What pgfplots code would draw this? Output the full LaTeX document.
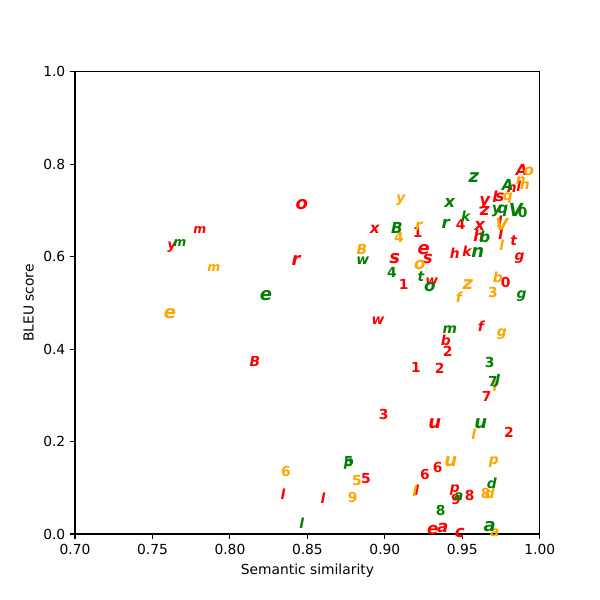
\documentclass[border=0pt]{standalone}
\usepackage{fontspec}
\setmainfont{DejaVu Sans}
\usepackage{pgfplots}
\usepackage{pgfplotstable}
\pgfplotsset{compat=1.18}
\definecolor{mplorange}{HTML}{FFA500}
\definecolor{mplgreen}{HTML}{008000}
\definecolor{mplred}{HTML}{FF0000}

\pgfplotstableread{
x y s label
0.7626 0.621 10 y
0.7806 0.658 9 m
0.8464 0.712 13 o
0.8426 0.593 13 r
0.8161 0.374 10 B
0.8935 0.660 11 x
0.9064 0.595 13 s
0.9212 0.652 10 \upshape1
0.9251 0.615 13 e
0.9277 0.595 12 s
0.9122 0.541 10 \upshape1
0.9303 0.545 10 w
0.8955 0.461 10 w
0.9451 0.608 10 h
0.9490 0.669 10 \upshape4
0.9530 0.613 10 k
0.9612 0.667 12 x
0.9606 0.645 11 h
0.9645 0.716 12 y
0.9645 0.699 12 z
0.9710 0.729 11 l
0.9742 0.729 11 s
0.9742 0.675 11 l
0.9748 0.649 11 l
0.9832 0.634 10 t
0.9870 0.597 10 g
0.9780 0.545 10 \upshape0
0.9883 0.788 11 A
0.9819 0.747 10 n
0.9864 0.753 10 l
0.9619 0.450 10 f
0.9393 0.420 10 b
0.9406 0.396 10 \upshape2
0.9200 0.361 10 \upshape1
0.9354 0.359 10 \upshape2
0.9657 0.297 10 \upshape7
0.8993 0.258 10 \upshape3
0.9322 0.238 13 u
0.9800 0.221 10 \upshape2
0.9341 0.143 10 \upshape6
0.9258 0.128 10 \upshape6
0.8877 0.119 10 \upshape5
0.8342 0.087 10 l
0.8600 0.078 10 l
0.9206 0.095 10 l
0.9451 0.095 10 p
0.9458 0.074 10 \upshape9
0.9548 0.084 10 \upshape8
0.9309 0.009 12 e
0.9374 0.013 12 a
0.9483 0.002 12 c
}\tred

\pgfplotstableread{
x y s label
0.7613 0.476 13 e
0.7897 0.576 9 m
0.8851 0.615 10 B
0.9103 0.723 10 y
0.9090 0.641 10 \upshape4
0.9219 0.667 11 r
0.9225 0.582 12 o
0.9477 0.513 10 f
0.9535 0.539 13 z
0.9729 0.556 10 b
0.9697 0.522 10 \upshape3
0.9755 0.433 10 g
0.9710 0.320 10 l
0.9574 0.216 10 l
0.9426 0.156 13 u
0.9703 0.156 10 p
0.8361 0.136 10 \upshape6
0.8819 0.115 10 \upshape5
0.8793 0.080 10 \upshape9
0.9193 0.093 10 l
0.9651 0.087 10 \upshape8
0.9677 0.087 10 d
0.9710 0.002 10 a
0.9755 0.669 12 V
0.9755 0.626 10 l
0.9793 0.727 10 q
0.9877 0.764 10 n
0.9903 0.755 10 n
0.9929 0.784 11 o
}\torange

\pgfplotstableread{
x y s label
0.7677 0.630 9 m
0.8232 0.515 13 e
0.8858 0.591 10 w
0.9077 0.662 11 B
0.9045 0.565 10 \upshape4
0.9232 0.558 10 t
0.9290 0.535 12 o
0.9419 0.716 12 x
0.9393 0.671 12 r
0.9574 0.771 13 z
0.9522 0.688 10 k
0.9645 0.643 11 b
0.9600 0.610 13 n
0.9722 0.699 11 y
0.9761 0.699 11 q
0.9845 0.701 13 V
0.9890 0.695 10 \upshape0
0.9793 0.755 11 A
0.9883 0.515 10 g
0.9419 0.442 10 m
0.9677 0.372 10 \upshape3
0.9697 0.331 10 \upshape7
0.9729 0.331 10 J
0.9619 0.238 13 u
0.8767 0.156 10 \upshape5
0.8767 0.152 10 p
0.9690 0.110 10 d
0.9361 0.050 10 \upshape8
0.9477 0.080 10 a
0.9677 0.017 13 a
0.8464 0.024 10 l
}\tgreen

\begin{document}
\begin{tikzpicture}
\begin{axis}[
  scale only axis,
  width=336pt, height=334pt,
  xmin=0.7, xmax=1.0, ymin=0, ymax=1.0,
  xtick={0.70,0.75,0.80,0.85,0.90,0.95,1.00},
  ytick={0,0.2,0.4,0.6,0.8,1.0},
  xticklabel style={/pgf/number format/.cd, fixed, fixed zerofill, precision=2, assume math mode=true},
  yticklabel style={/pgf/number format/.cd, fixed, fixed zerofill, precision=1, assume math mode=true},
  scaled ticks=false,
  tick align=outside,
  xtick pos=bottom, ytick pos=left,
  major tick length=3.5pt,
  tick style={black, line width=0.8pt},
  axis line style={line width=0.8pt},
  ticklabel style={font=\fontsize{10}{12}\selectfont},
  label style={font=\fontsize{10}{12}\selectfont},
  xlabel={Semantic similarity},
  ylabel={BLEU score},
  clip=true,
]
\addplot[draw=none, mark=none, nodes near coords, point meta=explicit symbolic,
  visualization depends on={\thisrow{s}/10 \as \fsc},
  nodes near coords style={anchor=center, inner sep=0pt, text=mplred, scale=\fsc,
    font=\fontsize{10}{12}\selectfont\bfseries\itshape}]
  table[x=x, y=y, meta=label] {\tred};
\addplot[draw=none, mark=none, nodes near coords, point meta=explicit symbolic,
  visualization depends on={\thisrow{s}/10 \as \fsc},
  nodes near coords style={anchor=center, inner sep=0pt, text=mplorange, scale=\fsc,
    font=\fontsize{10}{12}\selectfont\bfseries\itshape}]
  table[x=x, y=y, meta=label] {\torange};
\addplot[draw=none, mark=none, nodes near coords, point meta=explicit symbolic,
  visualization depends on={\thisrow{s}/10 \as \fsc},
  nodes near coords style={anchor=center, inner sep=0pt, text=mplgreen, scale=\fsc,
    font=\fontsize{10}{12}\selectfont\bfseries\itshape}]
  table[x=x, y=y, meta=label] {\tgreen};
\end{axis}
\path ([shift={(-54.2pt,-47.7pt)}]current axis.south west) rectangle ([shift={(43.4pt,52pt)}]current axis.north east);
\end{tikzpicture}
\end{document}
